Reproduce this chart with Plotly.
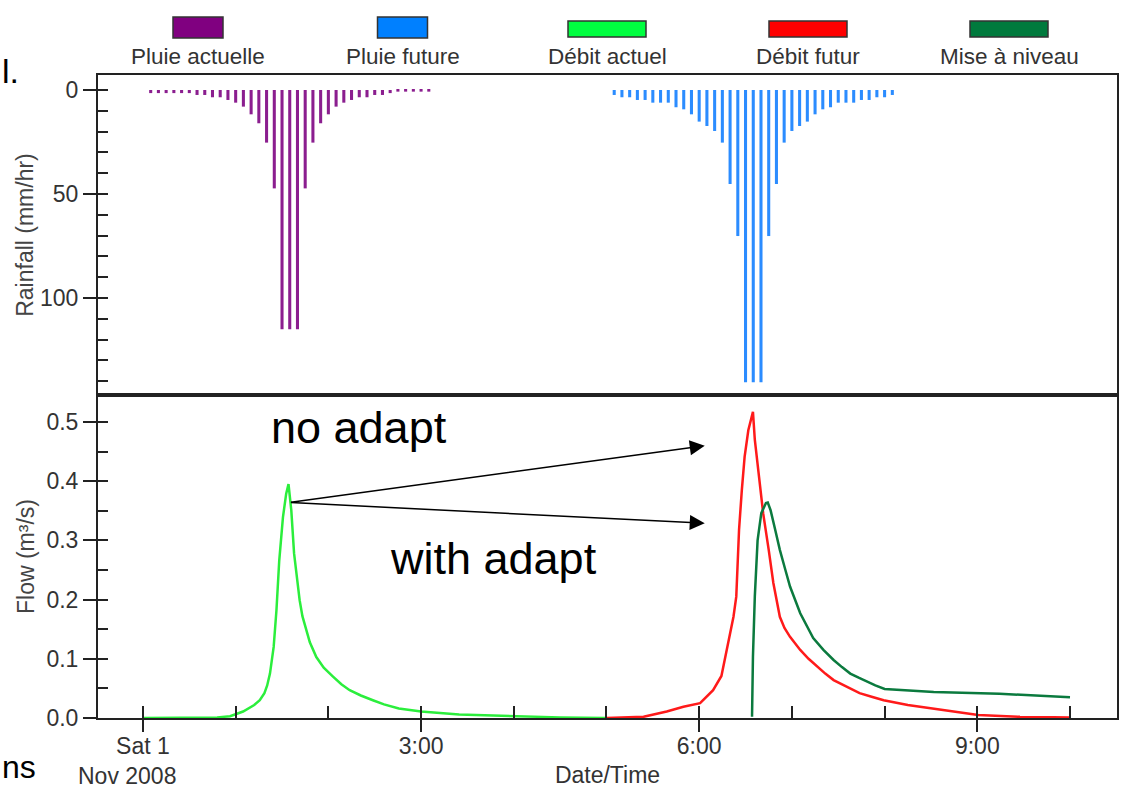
import plotly.graph_objects as go

# ---------------- data ----------------
# rainfall bars, 5-minute steps (hours since Sat 1 Nov 2008 00:00)
rain_now_start_h = 5 / 60.0
rain_fut_start_h = 5 + 5 / 60.0
step_h = 5 / 60.0
rain_now = [1.5, 1.5, 1.5, 1.5, 1.5, 1.5, 2.4, 2.4, 3.5, 3.5, 4.8, 6.1, 8, 11.7, 16, 25.3, 47.3,
            115, 115, 115,
            47.3, 25.3, 16, 11.7, 8, 6.1, 4.8, 3.5, 3.5, 2.4, 2.4, 1.5, 0.8, 0.8, 0.8, 0.8, 0.8]
rain_fut = [2.4, 3.5, 3.5, 4.8, 4.8, 6.1, 6.1, 6.1, 8.3, 9.3, 11.7, 15.2, 17.3, 19.7, 25.3, 45.2, 70.2,
            140.5, 140.5, 140.5,
            70.2, 45.2, 25.3, 19.7, 17.3, 15.2, 11.7, 9.3, 8.3, 6.1, 6.1, 6.1, 4.8, 4.8, 3.5, 3.5, 2.4]
t_rain_now = [rain_now_start_h + i * step_h for i in range(len(rain_now))]
t_rain_fut = [rain_fut_start_h + i * step_h for i in range(len(rain_fut))]

# flows (m3/s)
t_q_now = [0.0, 0.5, 0.8, 0.94, 1.08, 1.2, 1.26, 1.31, 1.34, 1.37, 1.41, 1.44, 1.47, 1.51, 1.545, 1.57,
           1.6, 1.63, 1.66, 1.69, 1.72, 1.76, 1.80, 1.87, 1.95, 2.05, 2.14, 2.23, 2.35, 2.48, 2.6, 2.76,
           3.0, 3.41, 4.0, 4.5, 5.0]
q_now = [0.0, 0.0, 0.001, 0.003, 0.011, 0.022, 0.030, 0.042, 0.055, 0.075, 0.12, 0.182, 0.266, 0.339,
         0.379, 0.395,
         0.351, 0.278, 0.235, 0.199, 0.172, 0.148, 0.128, 0.103, 0.085, 0.07, 0.057, 0.047, 0.038, 0.030,
         0.023, 0.016, 0.011, 0.006, 0.003, 0.001, 0.0]

t_q_fut = [5.0, 5.2, 5.40, 5.65, 5.83, 6.01, 6.15, 6.24, 6.31, 6.37, 6.40, 6.43, 6.46, 6.49, 6.53, 6.58,
           6.60, 6.64, 6.69, 6.75, 6.80, 6.87, 6.92, 6.98, 7.09, 7.18, 7.27, 7.36, 7.45, 7.6, 7.73, 7.86,
           7.99, 8.25, 8.53, 9.01, 9.46, 10.0]
q_fut = [0.0, 0.0005, 0.002, 0.011, 0.019, 0.025, 0.047, 0.071, 0.126, 0.171, 0.205, 0.318, 0.385, 0.441,
         0.486, 0.517, 0.47, 0.413, 0.346, 0.284, 0.228, 0.171, 0.152, 0.137, 0.115, 0.1, 0.087, 0.075,
         0.064, 0.052, 0.042, 0.036, 0.030, 0.022, 0.016, 0.005, 0.002, 0.001]

t_q_adapt = [6.57, 6.58, 6.60, 6.63, 6.67, 6.72, 6.74, 6.77, 6.82, 6.87, 6.93, 6.98, 7.09, 7.16, 7.23,
             7.34, 7.45, 7.54, 7.63, 7.72, 7.81, 7.9, 8.00, 8.53, 9.24, 10.0]
q_adapt = [0.002, 0.104, 0.205, 0.30, 0.346, 0.363, 0.364, 0.351, 0.318, 0.284, 0.25, 0.222, 0.177, 0.155,
           0.135, 0.115, 0.098, 0.086, 0.075, 0.068, 0.061, 0.055, 0.049, 0.044, 0.041, 0.035]

x_tick_vals = [0, 3, 6, 9]
x_tick_text = ["Sat 1", "3:00", "6:00", "9:00"]
rain_tick_vals = [0, 50, 100]
flow_tick_vals = [0.0, 0.1, 0.2, 0.3, 0.4, 0.5]
flow_tick_text = ["0.0", "0.1", "0.2", "0.3", "0.4", "0.5"]

legend_names = ["Pluie actuelle", "Pluie future", "Débit actuel", "Débit futur", "Mise à niveau"]
legend_colors = ["#800080", "#0080ff", "#00ff40", "#ff0000", "#007a3d"]

# ---------------- style ----------------
FONT = "Liberation Sans, Arial, sans-serif"
AX = "#222222"
TXT = "#333333"
PURPLE_BAR = "#8b1e8f"
BLUE_BAR = "#2b8cff"
GREEN_LINE = "#2bee3c"
RED_LINE = "#ff1a1a"
DKGREEN_LINE = "#0b7a3e"

W, H = 1127, 788
ML, MR, MT, MB = 98, 10, 75, 70
PW, PH = W - ML - MR, H - MT - MB
SPLIT = (718 - 395) / PH
XR = [-0.485, 10.507]
RAIN_R = [146.6, -7.2]
FLOW_R = [0, 0.5456]


def px_x(px):
    return (px - ML) / PW


def px_y(py):
    return (H - MB - py) / PH


fig = go.Figure()

fig.add_trace(go.Bar(x=t_rain_now, y=rain_now, width=0.033, marker=dict(color=PURPLE_BAR, line_width=0),
                     xaxis="x2", yaxis="y", name=legend_names[0]))
fig.add_trace(go.Bar(x=t_rain_fut, y=rain_fut, width=0.033, marker=dict(color=BLUE_BAR, line_width=0),
                     xaxis="x2", yaxis="y", name=legend_names[1]))
fig.add_trace(go.Scatter(x=t_q_now, y=q_now, mode="lines", line=dict(color=GREEN_LINE, width=2.5),
                         xaxis="x", yaxis="y2", name=legend_names[2]))
fig.add_trace(go.Scatter(x=t_q_fut, y=q_fut, mode="lines", line=dict(color=RED_LINE, width=2.5),
                         xaxis="x", yaxis="y2", name=legend_names[3]))
fig.add_trace(go.Scatter(x=t_q_adapt, y=q_adapt, mode="lines", line=dict(color=DKGREEN_LINE, width=2.5),
                         xaxis="x", yaxis="y2", name=legend_names[4]))
# empty traces so the tick-overlay axes are drawn
fig.add_trace(go.Scatter(x=[], y=[], xaxis="x3", yaxis="y2", showlegend=False, hoverinfo="skip"))
fig.add_trace(go.Scatter(x=[], y=[], xaxis="x2", yaxis="y3", showlegend=False, hoverinfo="skip"))
fig.add_trace(go.Scatter(x=[], y=[], xaxis="x", yaxis="y4", showlegend=False, hoverinfo="skip"))

tickfont = dict(family=FONT, size=23, color=TXT)
common = dict(showgrid=False, zeroline=False, linecolor=AX, linewidth=2, tickcolor=AX, tickwidth=2)

shapes = []
annotations = []
# custom legend: swatch above label
centers = [198, 402.5, 607, 808, 1009]
for i, (name, col) in enumerate(zip(legend_names, legend_colors)):
    cx = centers[i]
    if i < 2:
        half, y0, y1 = 25, 17, 38
    else:
        half, y0, y1 = 39, 21, 37
    shapes.append(dict(type="rect", xref="paper", yref="paper",
                       x0=px_x(cx - half), x1=px_x(cx + half), y0=px_y(y1), y1=px_y(y0),
                       fillcolor=col, line=dict(color="#333333", width=1.5), layer="above"))
    annotations.append(dict(text=name, xref="paper", yref="paper", x=px_x(cx), y=px_y(56),
                            xanchor="center", yanchor="middle", showarrow=False,
                            font=dict(family=FONT, size=22.5, color=TXT)))

annotations.append(dict(text="Nov 2008", xref="x", yref="paper", x=0, y=0, xshift=-16, yshift=-58,
                        xanchor="center", yanchor="middle", showarrow=False, font=tickfont))

# callouts
arrow_tail = (1.58, 0.364)
for head in [(6.06, 0.46), (6.06, 0.329)]:
    annotations.append(dict(text="", x=head[0], y=head[1], ax=arrow_tail[0], ay=arrow_tail[1],
                            xref="x", yref="y2", axref="x", ayref="y2", showarrow=True,
                            arrowhead=2, arrowsize=2, arrowwidth=1.5, arrowcolor="black",
                            standoff=0, startstandoff=0))
annotations.append(dict(text="no adapt", x=2.33, y=0.491, xref="x", yref="y2", showarrow=False,
                        xanchor="center", yanchor="middle", font=dict(family=FONT, size=45, color="black")))
annotations.append(dict(text="with adapt", x=3.785, y=0.27, xref="x", yref="y2", showarrow=False,
                        xanchor="center", yanchor="middle", font=dict(family=FONT, size=45, color="black")))

# slide text fragments at the left edge
annotations.append(dict(text="l.", xref="paper", yref="paper", x=px_x(0), y=px_y(71), xanchor="left",
                        yanchor="middle", showarrow=False, font=dict(family=FONT, size=34, color="black")))
annotations.append(dict(text="ns", xref="paper", yref="paper", x=px_x(0), y=px_y(787), xanchor="left",
                        yanchor="bottom", showarrow=False, font=dict(family=FONT, size=32, color="black")))

fig.update_layout(
    width=W, height=H,
    margin=dict(l=ML, r=MR, t=MT, b=MB, autoexpand=False),
    paper_bgcolor="white", plot_bgcolor="white",
    showlegend=False, barmode="overlay",
    font=dict(family=FONT, color=TXT),
    xaxis=dict(domain=[0, 1], anchor="y2", range=XR, showline=True, mirror=True,
               ticks="outside", ticklen=12, tickvals=x_tick_vals, ticktext=x_tick_text, tickfont=tickfont,
               ticklabelstandoff=-6,
               title=dict(text="Date/Time", standoff=15, font=tickfont), **common),
    xaxis2=dict(domain=[0, 1], anchor="y", range=XR, showline=True, mirror=True,
                ticks="", showticklabels=False, **common),
    xaxis3=dict(overlaying="x", anchor="y2", range=XR, showline=False, ticks="inside", ticklen=12,
                tickvals=list(range(0, 11)), showticklabels=False, **common),
    yaxis=dict(domain=[SPLIT, 1], anchor="x2", range=RAIN_R, showline=True, mirror=True,
               ticks="outside", ticklen=13, tickvals=rain_tick_vals, tickfont=tickfont,
               title=dict(text="Rainfall (mm/hr)", standoff=0, font=dict(family=FONT, size=23, color="#444")),
               **common),
    yaxis2=dict(domain=[0, SPLIT], anchor="x", range=FLOW_R, showline=True, mirror=True,
                ticks="outside", ticklen=13, tickvals=flow_tick_vals, ticktext=flow_tick_text, tickfont=tickfont,
                title=dict(text="Flow (m³/s)", standoff=5, font=dict(family=FONT, size=23, color="#444")),
                **common),
    yaxis3=dict(overlaying="y", anchor="x2", range=RAIN_R, showline=False, ticks="inside", ticklen=10,
                tickvals=list(range(0, 150, 10)), showticklabels=False, **common),
    yaxis4=dict(overlaying="y2", anchor="x", range=FLOW_R, showline=False, ticks="inside", ticklen=10,
                tickvals=[0, 0.05, 0.1, 0.15, 0.2, 0.25, 0.3, 0.35, 0.4, 0.45, 0.5],
                showticklabels=False, **common),
    shapes=shapes,
    annotations=annotations,
)

fig.write_html("out.html")
